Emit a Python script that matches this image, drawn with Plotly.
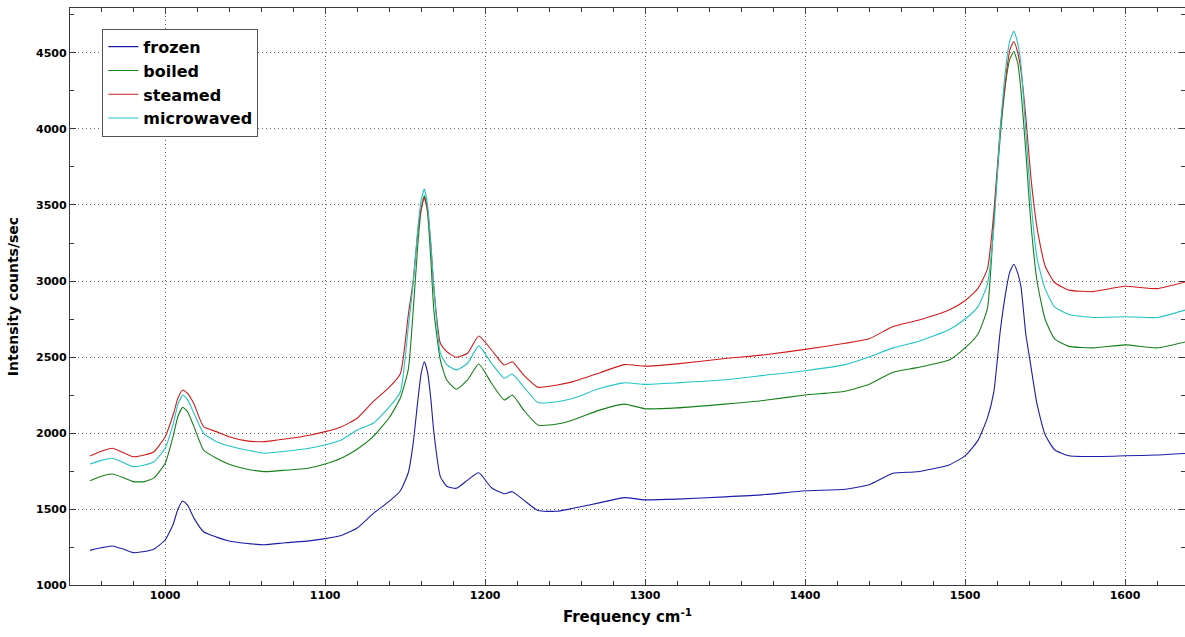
import plotly.graph_objects as go

# Raman shift (cm^-1) sample positions shared by all spectra
freq = [953, 960, 967, 974, 980, 987, 993, 1000, 1005, 1008, 1011, 1014, 1018, 1024,
        1032, 1040, 1050, 1062, 1075, 1090, 1100, 1110, 1120, 1130, 1140, 1147, 1152,
        1155, 1158, 1160, 1162, 1164, 1166, 1168, 1172, 1176, 1182, 1189, 1196, 1204,
        1212, 1217, 1224, 1233, 1245, 1255, 1272, 1287, 1300, 1320, 1350, 1375, 1400,
        1425, 1440, 1455, 1470, 1490, 1500, 1508, 1514, 1518, 1522, 1526, 1528, 1530.5,
        1533, 1535, 1538, 1541, 1545, 1550, 1556, 1565, 1580, 1600, 1620, 1638]

frozen = [1228, 1245, 1257, 1235, 1213, 1220, 1237, 1296, 1400, 1500, 1553, 1525, 1440, 1350,
          1315, 1290, 1275, 1265, 1278, 1290, 1305, 1325, 1375, 1470, 1550, 1620, 1740,
          1930, 2220, 2390, 2469, 2400, 2230, 2000, 1713, 1650, 1636, 1690, 1738, 1640,
          1600, 1614, 1560, 1490, 1485, 1505, 1542, 1575, 1560, 1565, 1580, 1595, 1620,
          1630, 1660, 1735, 1745, 1790, 1850, 1950, 2100, 2270, 2670, 2960, 3060, 3110,
          3050, 2960, 2650, 2450, 2190, 1990, 1890, 1850, 1845, 1850, 1855, 1865]

boiled = [1686, 1715, 1730, 1705, 1680, 1680, 1705, 1801, 1980, 2110, 2169, 2140, 2042, 1888,
          1834, 1795, 1765, 1746, 1755, 1770, 1796, 1834, 1893, 1976, 2100, 2230, 2420,
          2800, 3250, 3470, 3560, 3450, 3150, 2800, 2480, 2349, 2288, 2349, 2454, 2327,
          2217, 2250, 2152, 2053, 2059, 2086, 2152, 2190, 2160, 2165, 2190, 2215, 2250,
          2275, 2320, 2400, 2430, 2480, 2560, 2650, 2820, 3400, 3950, 4350, 4460, 4510,
          4430, 4250, 3850, 3400, 3000, 2750, 2620, 2570, 2560, 2580, 2560, 2600]

steamed = [1849, 1880, 1900, 1870, 1844, 1855, 1877, 1976, 2120, 2230, 2283, 2260, 2190, 2042,
           2009, 1975, 1950, 1943, 1960, 1985, 2009, 2040, 2097, 2206, 2300, 2390, 2780,
           3000, 3330, 3470, 3546, 3470, 3250, 2950, 2590, 2535, 2498, 2525, 2638, 2546,
           2447, 2469, 2382, 2301, 2316, 2338, 2397, 2450, 2440, 2455, 2490, 2515, 2550,
           2590, 2620, 2700, 2740, 2810, 2870, 2950, 3080, 3450, 4000, 4380, 4520, 4576,
           4500, 4380, 4080, 3700, 3350, 3100, 2990, 2940, 2930, 2965, 2950, 2995]

microwaved = [1796, 1820, 1834, 1805, 1779, 1790, 1811, 1900, 2060, 2190, 2250, 2220, 2130, 1998,
              1943, 1915, 1890, 1867, 1880, 1900, 1921, 1954, 2020, 2064, 2170, 2270, 2700,
              2980, 3350, 3530, 3605, 3500, 3250, 2950, 2525, 2450, 2415, 2459, 2573, 2459,
              2360, 2388, 2305, 2200, 2206, 2229, 2294, 2330, 2320, 2330, 2350, 2380, 2410,
              2450, 2500, 2560, 2600, 2680, 2750, 2830, 2980, 3350, 4000, 4450, 4580, 4642,
              4560, 4420, 3980, 3550, 3150, 2950, 2830, 2780, 2760, 2765, 2760, 2810]

series_names = ["frozen", "boiled", "steamed", "microwaved"]
series_values = [frozen, boiled, steamed, microwaved]
series_colors = ["#1c1ca8", "#16801a", "#d01c1c", "#22c4c4"]

x_ticks = [1000, 1100, 1200, 1300, 1400, 1500, 1600]
y_ticks = [1000, 1500, 2000, 2500, 3000, 3500, 4000, 4500]

FONT = "DejaVu Sans"

fig = go.Figure()
for name, vals, col in zip(series_names, series_values, series_colors):
    fig.add_trace(go.Scatter(x=freq, y=vals, mode="lines", name=name,
                             line=dict(color=col, width=1.1, shape="spline", smoothing=0.5)))

axis_common = dict(
    showline=True, linecolor="#3a3a3a", linewidth=1.2, mirror="ticks",
    ticks="inside", ticklen=6, tickcolor="#3a3a3a",
    showgrid=True, gridcolor="#6a6a6a", griddash="1px,3px", gridwidth=1,
    zeroline=False,
    tickfont=dict(family=FONT, size=11, color="black", weight="bold"),
)

fig.update_xaxes(
    range=[940.5, 1637.5], tickvals=x_ticks,
    minor=dict(ticks="inside", ticklen=4, dtick=20, tick0=940, tickcolor="#3a3a3a", showgrid=False),
    title=dict(text="Frequency cm<sup>-1</sup>", standoff=10,
               font=dict(family=FONT, size=15, color="black", weight="bold")),
    **axis_common,
)
fig.update_yaxes(
    range=[1000, 4796], tickvals=y_ticks,
    minor=dict(ticks="inside", ticklen=4, dtick=250, tick0=1000, tickcolor="#3a3a3a", showgrid=False),
    title=dict(text="Intensity counts/sec", standoff=14,
               font=dict(family=FONT, size=14, color="black", weight="bold")),
    **axis_common,
)

fig.update_layout(
    width=1185, height=637,
    margin=dict(l=70, r=0, t=8, b=52),
    plot_bgcolor="white", paper_bgcolor="white",
    legend=dict(x=0.029, y=0.964, xanchor="left", yanchor="top",
                bgcolor="white", bordercolor="#555555", borderwidth=1,
                font=dict(family=FONT, size=16, color="black", weight="bold"),
                tracegroupgap=0, itemwidth=30),
    showlegend=True,
)

fig.write_html("out.html")
